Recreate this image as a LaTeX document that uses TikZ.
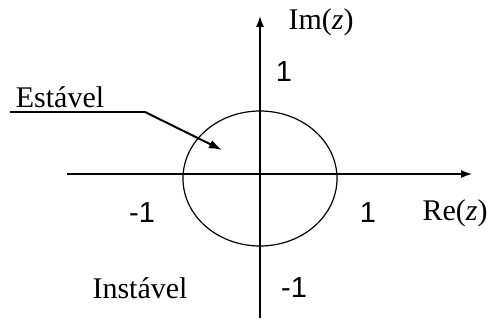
\documentclass[tikz,border=0pt]{standalone}
\usepackage{fontspec}
\setmainfont{Liberation Serif}
\newfontfamily\digitfont{Liberation Sans}
\usetikzlibrary{arrows.meta, positioning}

\begin{document}
\begin{tikzpicture}[
    x=1pt, y=-1pt,
    % estilos
    axis/.style={line width=1.4pt, -{Latex[length=11pt, width=8pt]}},
    lbl/.style={inner sep=0pt, font=\fontsize{30}{36}\selectfont},
    num/.style={inner sep=0pt, font=\fontsize{29}{34}\digitfont},
    pointer/.style={line width=2pt, -{Latex[length=13pt, width=9pt]}}
]
\useasboundingbox (0,0) rectangle (493,323);

% eixos
\coordinate (xl) at (67,174);
\coordinate (xr) at (472,174);
\coordinate (yb) at (260,318);
\coordinate (yt) at (260,16);
\draw [axis] (xl) -- (xr);
\draw [axis] (yb) -- (yt);

% circulo unitario
\draw [line width=1.2pt] (260,178.5) ellipse [x radius=77, y radius=67.5];

% rotulos dos eixos
\node (im) [lbl] at (321,22) {Im(\textit{z})};
\node (re) [lbl] at (455,213) {Re(\textit{z})};
\node (ytop) [num] at (284,72) {1};
\node (ybot) [num] at (294,288) {-1};
\node (xneg) [num] at (142,213) {-1};
\node (xpos) [num] at (368,213) {1};

% regioes
\node (estavel) [lbl] at (60,97) {Estável};
\node (instavel) [lbl] at (140,288) {Instável};

% seta de Estavel
\coordinate (ul) at (10,112);
\coordinate (bend) at (145,112);
\coordinate (tip) at (222,150);
\draw [line width=1.2pt] (ul) -- (bend);
\draw [pointer] (bend) -- (tip);

\end{tikzpicture}
\end{document}
